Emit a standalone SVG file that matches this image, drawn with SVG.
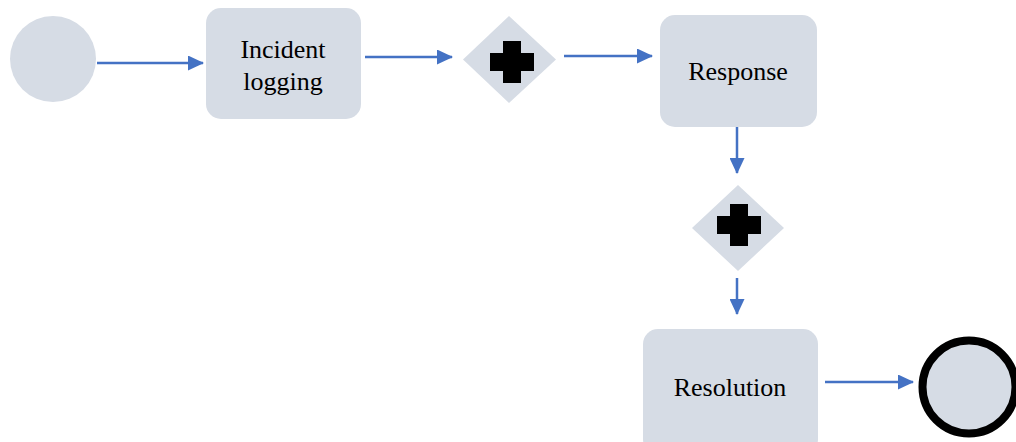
<svg xmlns="http://www.w3.org/2000/svg" width="1016" height="442" viewBox="0 0 1016 442">
  <style>
    .shape { fill: #D6DCE5; }
    .label { font-family: "Liberation Serif", "Times New Roman", serif; font-size: 26px; fill: #000; text-anchor: middle; }
    .flow { stroke: #4472C4; stroke-width: 2.5; fill: none; marker-end: url(#arrow); }
    .plus { fill: #000; }
  </style>
  <defs>
    <marker id="arrow" markerWidth="6.4" markerHeight="6" refX="6" refY="3" orient="auto" markerUnits="strokeWidth">
      <path d="M0,0 L6.4,3 L0,6 Z" fill="#4472C4"/>
    </marker>
    <path id="plus-shape" d="M-9,-21 H9 V-9 H22 V9 H9 V21 H-9 V9 H-22 V-9 H-9 Z"/>
  </defs>

  <g id="connectors">
    <line class="flow" x1="97" y1="63" x2="203" y2="63"/>
    <line class="flow" x1="365" y1="57" x2="452" y2="57"/>
    <line class="flow" x1="564" y1="56" x2="652" y2="56"/>
    <line class="flow" x1="737" y1="127" x2="737" y2="173"/>
    <line class="flow" x1="737" y1="278" x2="737" y2="314"/>
    <line class="flow" x1="825" y1="382" x2="913" y2="382"/>
  </g>

  <g id="start">
    <circle class="shape" cx="53" cy="59" r="43"/>
  </g>

  <g id="incident-logging">
    <rect class="shape" x="206" y="8" width="155" height="111" rx="15"/>
    <text class="label" x="283" y="58">Incident</text>
    <text class="label" x="283" y="90">logging</text>
  </g>

  <g id="gateway-1">
    <polygon class="shape" points="509,16 556,59.5 509,103 463,59.5"/>
    <use class="plus" href="#plus-shape" x="512" y="62"/>
  </g>

  <g id="response">
    <rect class="shape" x="660" y="15" width="157" height="112" rx="15"/>
    <text class="label" x="738" y="80">Response</text>
  </g>

  <g id="gateway-2">
    <polygon class="shape" points="738,185 784,228 738,271 692,228"/>
    <use class="plus" href="#plus-shape" x="739" y="225"/>
  </g>

  <g id="resolution">
    <rect class="shape" x="643" y="329" width="175" height="125" rx="15"/>
    <text class="label" x="730" y="396">Resolution</text>
  </g>

  <g id="end">
    <circle class="shape" cx="969" cy="387" r="46.5" stroke="#000" stroke-width="8"/>
  </g>
</svg>
